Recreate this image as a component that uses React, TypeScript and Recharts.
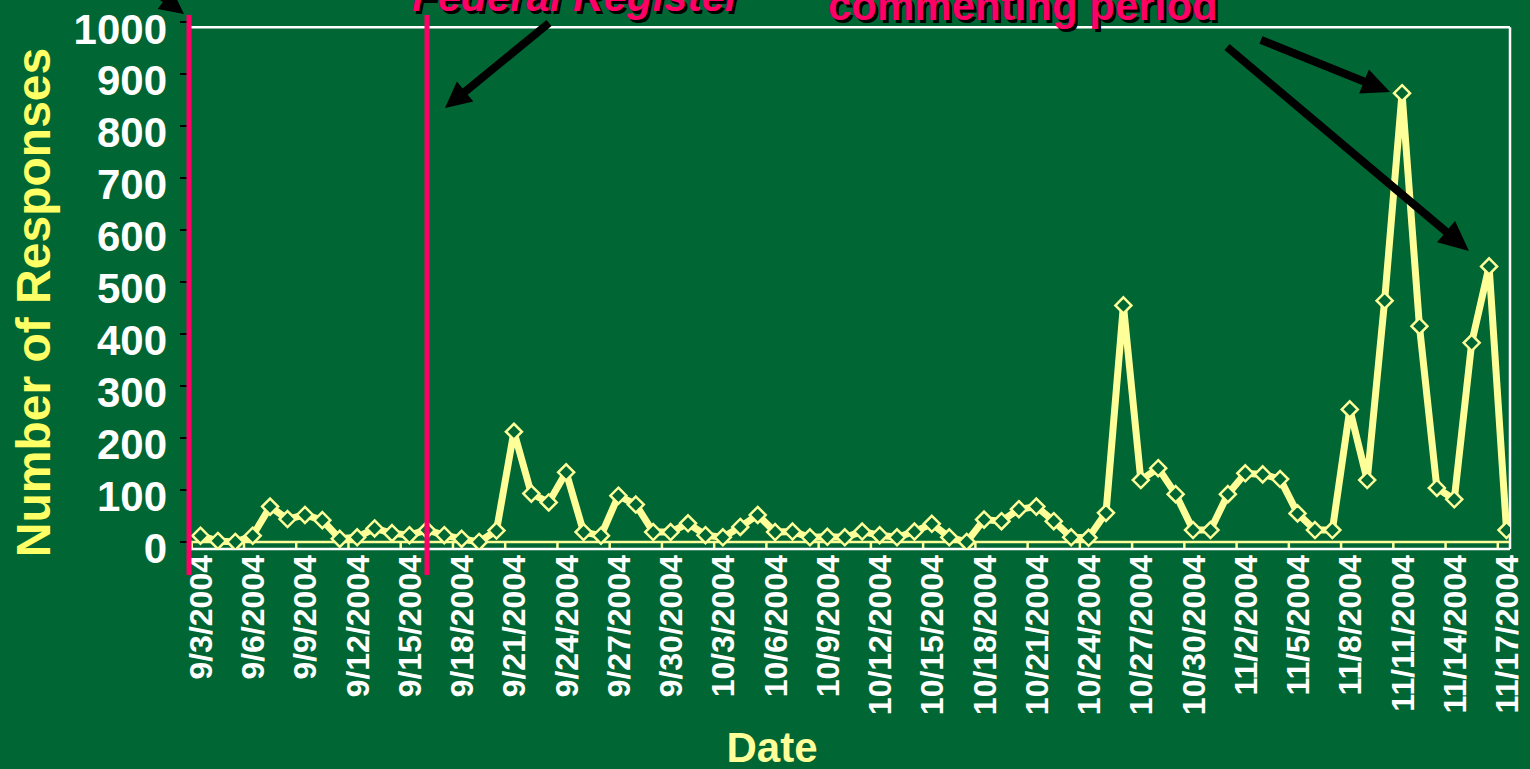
import React from 'react';
import { LineChart, Line, XAxis, YAxis, ReferenceLine, Label } from 'recharts';

const dates = [
  '9/3/2004', '9/4/2004', '9/5/2004', '9/6/2004', '9/7/2004', '9/8/2004', '9/9/2004', '9/10/2004',
  '9/11/2004', '9/12/2004', '9/13/2004', '9/14/2004', '9/15/2004', '9/16/2004', '9/17/2004', '9/18/2004',
  '9/19/2004', '9/20/2004', '9/21/2004', '9/22/2004', '9/23/2004', '9/24/2004', '9/25/2004', '9/26/2004',
  '9/27/2004', '9/28/2004', '9/29/2004', '9/30/2004', '10/1/2004', '10/2/2004', '10/3/2004', '10/4/2004',
  '10/5/2004', '10/6/2004', '10/7/2004', '10/8/2004', '10/9/2004', '10/10/2004', '10/11/2004', '10/12/2004',
  '10/13/2004', '10/14/2004', '10/15/2004', '10/16/2004', '10/17/2004', '10/18/2004', '10/19/2004', '10/20/2004',
  '10/21/2004', '10/22/2004', '10/23/2004', '10/24/2004', '10/25/2004', '10/26/2004', '10/27/2004', '10/28/2004',
  '10/29/2004', '10/30/2004', '10/31/2004', '11/1/2004', '11/2/2004', '11/3/2004', '11/4/2004', '11/5/2004',
  '11/6/2004', '11/7/2004', '11/8/2004', '11/9/2004', '11/10/2004', '11/11/2004', '11/12/2004', '11/13/2004',
  '11/14/2004', '11/15/2004', '11/16/2004', '11/17/2004',
];

const responses = [
  12, 2, 0, 12, 68, 44, 52, 42, 6, 9, 26, 17, 13, 23, 13, 6,
  0, 22, 212, 93, 76, 134, 19, 12, 89, 72, 19, 19, 36, 13, 9, 29,
  52, 19, 20, 9, 10, 9, 20, 13, 9, 20, 35, 9, 0, 43, 40, 63,
  68, 40, 9, 8, 56, 455, 119, 142, 92, 23, 23, 92, 132, 130, 121, 55,
  23, 23, 255, 119, 464, 863, 415, 104, 82, 383, 530, 23,
];

// every third day gets a label
const labelDays = [0, 3, 6, 9, 12, 15, 18, 21, 24, 27, 30, 33, 36, 39, 42, 45, 48, 51, 54, 57, 60, 63, 66, 69, 72, 75];
const yTicks = [0, 100, 200, 300, 400, 500, 600, 700, 800, 900, 1000];
const rightTicks = [100, 200, 300, 400, 500, 600, 700, 800, 900];

const data = responses.map((v, i) => ({ day: i, date: dates[i], responses: v }));

const BG = '#006633';
const YELLOW = '#FFFF99';
const PINK = '#FF0066';
const FONT = '"Liberation Sans", Arial, sans-serif';

const X_MIN = -0.6;
const X_MAX = 75.2;
const Y_MIN = -13.5;
const Y_MAX = 1000;

const Diamond = ({ cx, cy, index }: any) => {
  if (cx == null || cy == null) return null;
  const r = 8;
  return (
    <path
      key={`d-${index}`}
      d={`M${cx},${cy - r} L${cx + r},${cy} L${cx},${cy + r} L${cx - r},${cy} Z`}
      fill={BG}
      stroke={YELLOW}
      strokeWidth={2.5}
    />
  );
};

const XTick = ({ x, y, payload }: any) => (
  <text
    transform={`rotate(-90 ${x} ${y})`}
    x={x}
    y={y}
    dy="0.36em"
    textAnchor="end"
    fill="#fff"
    fontSize={32}
    fontWeight="bold"
    fontFamily={FONT}
  >
    {dates[payload.value]}
  </text>
);

const YTick = ({ x, y, payload }: any) => (
  <text
    x={x}
    y={y + 7}
    textAnchor="end"
    dominantBaseline="central"
    fill="#fff"
    fontSize={42}
    fontWeight="bold"
    fontFamily={FONT}
  >
    {payload.value}
  </text>
);

// arrow as one polygon: shaft + head, tip at (x2, y2)
const arrowPoints = (x1: number, y1: number, x2: number, y2: number, w: number, hl: number, hw: number) => {
  const dx = x2 - x1;
  const dy = y2 - y1;
  const len = Math.sqrt(dx * dx + dy * dy);
  const ux = dx / len;
  const uy = dy / len;
  const px = -uy;
  const py = ux;
  const bx = x2 - ux * hl;
  const by = y2 - uy * hl;
  const pts = [
    [x1 + px * w / 2, y1 + py * w / 2],
    [bx + px * w / 2, by + py * w / 2],
    [bx + px * hw / 2, by + py * hw / 2],
    [x2, y2],
    [bx - px * hw / 2, by - py * hw / 2],
    [bx - px * w / 2, by - py * w / 2],
    [x1 - px * w / 2, y1 - py * w / 2],
  ];
  return pts.map((p) => p.join(',')).join(' ');
};

const Annotations = () => (
  <svg width={1530} height={769} style={{ position: 'absolute', left: 0, top: 0, pointerEvents: 'none' }}>
    <line x1={189} y1={15} x2={189} y2={575} stroke={PINK} strokeWidth={5} />
    <line x1={427} y1={15} x2={427} y2={575} stroke={PINK} strokeWidth={5} />

    <polygon points={arrowPoints(150, -12, 184, 14, 7, 24, 24)} fill="#000" />
    <polygon points={arrowPoints(549, 23, 445, 108, 8, 26, 26)} fill="#000" />
    <polygon points={arrowPoints(1261, 40, 1390, 92, 8, 28, 26)} fill="#000" />
    <polygon points={arrowPoints(1227, 47, 1469, 251, 8, 30, 28)} fill="#000" />

    <g fontFamily={FONT} fontWeight="bold" fontSize={42}>
      <text x={415} y={14} fill="#000" fontStyle="italic">Federal Register</text>
      <text x={412} y={11} fill={PINK} fontStyle="italic">Federal Register</text>
      <text x={831} y={23} fill="#000">commenting period</text>
      <text x={828} y={20} fill={PINK}>commenting period</text>
    </g>
  </svg>
);

export default function App() {
  return (
    <div style={{ position: 'absolute', left: 0, top: 0, width: 1530, height: 769, background: BG, overflow: 'hidden' }}>
      <LineChart width={1530} height={769} data={data} margin={{ top: 22, right: 0, bottom: 0, left: 0 }}>
        <XAxis
          dataKey="day"
          type="number"
          domain={[X_MIN, X_MAX]}
          ticks={labelDays}
          interval={0}
          allowDataOverflow
          height={220}
          axisLine={{ stroke: '#fff', strokeWidth: 2.5 }}
          tickLine={false}
          tickSize={0}
          tickMargin={6}
          tick={<XTick />}
        >
          <Label
            content={({ viewBox }: any) => (
              <text
                x={viewBox.x + 582}
                y={762}
                textAnchor="middle"
                fill={YELLOW}
                fontSize={42}
                fontWeight="bold"
                fontFamily={FONT}
              >
                Date
              </text>
            )}
          />
        </XAxis>
        <YAxis
          yAxisId="left"
          type="number"
          domain={[Y_MIN, Y_MAX]}
          ticks={yTicks}
          interval={0}
          allowDataOverflow
          width={190}
          axisLine={{ stroke: '#000', strokeWidth: 2 }}
          tickLine={{ stroke: '#000', strokeWidth: 2 }}
          tickSize={10}
          tickMargin={13}
          tick={<YTick />}
        >
          <Label
            content={({ viewBox }: any) => {
              const cx = viewBox.x + 33;
              const cy = viewBox.y + viewBox.height / 2 + 17;
              return (
                <text
                  transform={`rotate(-90 ${cx} ${cy})`}
                  x={cx}
                  y={cy}
                  dy="0.36em"
                  textAnchor="middle"
                  fill="#FFFF66"
                  fontSize={48}
                  fontWeight="bold"
                  fontFamily={FONT}
                >
                  Number of Responses
                </text>
              );
            }}
          />
        </YAxis>
        <YAxis
          yAxisId="right"
          orientation="right"
          type="number"
          domain={[Y_MIN, Y_MAX]}
          ticks={rightTicks}
          interval={0}
          allowDataOverflow
          width={20}
          axisLine={false}
          tickLine={{ stroke: '#fff', strokeWidth: 2 }}
          tickSize={5}
          tick={false}
        />

        {/* plot frame: top and right edges */}
        <ReferenceLine
          yAxisId="left"
          segment={[{ x: X_MIN, y: 990 }, { x: X_MAX, y: 990 }]}
          stroke="#fff"
          strokeWidth={2.5}
          ifOverflow="visible"
        />
        <ReferenceLine
          yAxisId="left"
          segment={[{ x: X_MAX, y: Y_MIN }, { x: X_MAX, y: 990 }]}
          stroke="#fff"
          strokeWidth={2.5}
          ifOverflow="visible"
        />
        {/* category axis at zero with tick marks between categories */}
        <ReferenceLine yAxisId="left" y={0} stroke={YELLOW} strokeWidth={2.5} />
        {labelDays.map((d) => (
          <ReferenceLine
            key={`tk-${d}`}
            yAxisId="left"
            segment={[{ x: d - 0.5, y: 0 }, { x: d - 0.5, y: Y_MIN }]}
            stroke={YELLOW}
            strokeWidth={2.5}
            ifOverflow="visible"
          />
        ))}

        <Line
          yAxisId="left"
          type="linear"
          dataKey="responses"
          stroke={YELLOW}
          strokeWidth={7}
          dot={<Diamond />}
          activeDot={false}
          isAnimationActive={false}
        />
      </LineChart>
      <Annotations />
    </div>
  );
}
